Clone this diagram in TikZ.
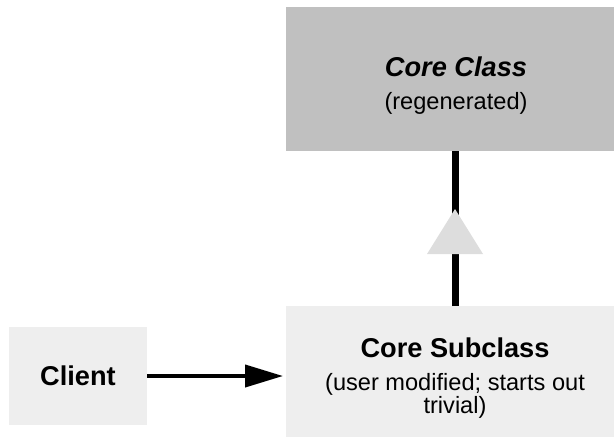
\documentclass[tikz,border=0pt]{standalone}
\usepackage{fontspec}
\setmainfont{Liberation Sans}
\usetikzlibrary{arrows.meta,positioning,calc}
\definecolor{coregray}{HTML}{C0C0C0}
\definecolor{subgray}{HTML}{EEEEEE}
\definecolor{tipgray}{HTML}{DDDDDD}

\begin{document}
\begin{tikzpicture}[x=0.5pt,y=-0.5pt,
  box/.style={inner sep=0pt,outer sep=0pt,anchor=north west},
  titletext/.style={font=\fontsize{13.6}{15}\selectfont\bfseries},
  subtext/.style={font=\fontsize{11.8}{11.6}\selectfont,align=center}]
  \useasboundingbox (0,0) rectangle (614,439);
  % boxes
  \node[box,fill=coregray,minimum width=169pt,minimum height=72pt] (core) at (286,7) {};
  \node[box,fill=subgray,minimum width=169pt,minimum height=65.5pt] (sub) at (286,306) {};
  \node[box,fill=subgray,minimum width=69pt,minimum height=49pt,titletext] (client) at (9,327) {Client};
  % labels
  \node[titletext] (coretitle) at (456,67) {\itshape Core Class};
  \node[subtext,below=0.5pt of coretitle] (coresub) {(regenerated)};
  \node[titletext] (subtitle) at (455,348) {Core Subclass};
  \node[subtext,below=0.5pt of subtitle] (subsub) {(user modified; starts out\\trivial)};
  % connectors
  \draw[line width=2pt,shorten >=1.5pt,-{Triangle[length=19pt,width=11pt]}]
    (client.east) -- (client.east -| sub.west);
  \draw[line width=3.5pt] (sub.north) -- (core.south);
  \coordinate (apex) at ($(core.south)+(0,58)$);
  \fill[tipgray] (apex) -- ++(28,45) -- ++(-56,0) -- cycle;
\end{tikzpicture}
\end{document}
